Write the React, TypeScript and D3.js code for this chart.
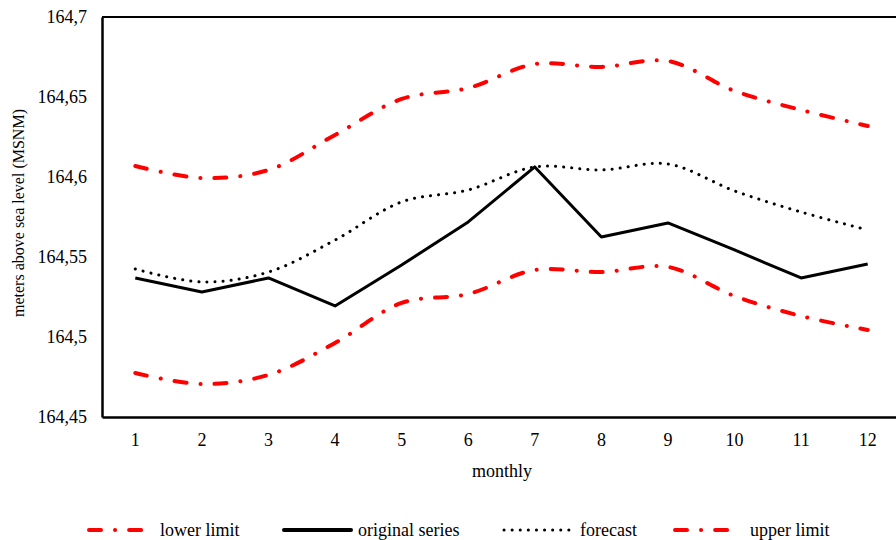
import React, { useEffect, useRef } from "react";
import * as d3 from "d3";

const months = ["1", "2", "3", "4", "5", "6", "7", "8", "9", "10", "11", "12"];
const upperLimit = [164.6069, 164.5994, 164.6044, 164.6263, 164.6488, 164.6556, 164.6706, 164.6688, 164.6725, 164.6538, 164.6419, 164.6319];
const originalSeries = [164.5369, 164.5281, 164.5369, 164.5194, 164.545, 164.5719, 164.6063, 164.5625, 164.5713, 164.5544, 164.5369, 164.5456];
const forecast = [164.5425, 164.5344, 164.5406, 164.5606, 164.5844, 164.5919, 164.6063, 164.6044, 164.6081, 164.5913, 164.5781, 164.5669];
const lowerLimit = [164.4775, 164.4706, 164.4763, 164.4963, 164.5213, 164.5269, 164.5419, 164.5406, 164.5438, 164.5256, 164.5131, 164.5044];
const yTicks = [164.45, 164.5, 164.55, 164.6, 164.65, 164.7];

const FONT = "'Liberation Serif', 'Times New Roman', Times, 'DejaVu Serif', serif";
const RED_DASH = "12 14 0.1 14";
const DOTS = "0.1 8";

function App() {
    const chart = useRef<SVGSVGElement>(null);

    useEffect(() => {
        const margin = { top: 17, right: -5, bottom: 123, left: 102 };
        const W = 896, H = 540;
        const width = W - margin.left - margin.right;
        const height = H - margin.top - margin.bottom;

        const root = d3.select(chart.current)
            .attr("width", W)
            .attr("height", H)
            .style("font-family", FONT);
        root.selectAll("*").remove();
        root.append("rect").attr("width", W).attr("height", H).attr("fill", "#fff");

        const svg = root.append("g")
            .attr("transform", `translate(${margin.left},${margin.top})`);

        const x = d3.scaleBand().domain(months).range([0, width]);
        const y = d3.scaleLinear().domain([164.45, 164.7]).range([height, 0]);
        const cx = (i: number) => (x(months[i]) as number) + x.bandwidth() / 2;

        // frame: top, left, bottom
        svg.append("line").attr("x1", 0).attr("x2", width).attr("y1", 0).attr("y2", 0)
            .attr("stroke", "#000").attr("stroke-width", 2);
        const yAxis = d3.axisLeft(y).tickValues(yTicks).tickSize(0).tickPadding(15)
            .tickFormat(d => String(d).replace(".", ","));
        const gy = svg.append("g").call(yAxis).attr("font-family", null);
        gy.select(".domain").attr("stroke-width", 2.5);
        gy.selectAll("text").style("font-family", FONT).attr("font-size", 18).attr("fill", "#000");

        const xAxis = d3.axisBottom(x).tickSize(0).tickPadding(16);
        const gx = svg.append("g").attr("transform", `translate(0,${height})`).call(xAxis).attr("font-family", null);
        gx.select(".domain").attr("stroke-width", 2.5);
        gx.selectAll("text").style("font-family", FONT).attr("font-size", 18).attr("fill", "#000");

        // axis titles
        root.append("text")
            .attr("transform", `translate(24,213) rotate(-90)`)
            .attr("text-anchor", "middle")
            .style("font-family", FONT).attr("font-size", 16)
            .text("meters above sea level (MSNM)");
        root.append("text")
            .attr("x", margin.left + 400).attr("y", 477)
            .attr("text-anchor", "middle")
            .style("font-family", FONT).attr("font-size", 18)
            .text("monthly");

        const smooth = d3.line<number>().x((d, i) => cx(i)).y(d => y(d)).curve(d3.curveCatmullRom.alpha(0.5));
        const straight = d3.line<number>().x((d, i) => cx(i)).y(d => y(d));

        const series = [
            { data: lowerLimit, gen: smooth, color: "#ff0000", w: 4, dash: RED_DASH },
            { data: upperLimit, gen: smooth, color: "#ff0000", w: 4, dash: RED_DASH },
            { data: forecast, gen: smooth, color: "#000", w: 3, dash: DOTS },
            { data: originalSeries, gen: straight, color: "#000", w: 3, dash: null },
        ];
        series.forEach(s => {
            svg.append("path")
                .attr("d", s.gen(s.data))
                .attr("fill", "none")
                .attr("stroke", s.color)
                .attr("stroke-width", s.w)
                .attr("stroke-linecap", s.dash ? "round" : "butt")
                .attr("stroke-linejoin", "round")
                .attr("stroke-dasharray", s.dash);
        });

        // legend
        const legend = [
            { label: "lower limit", x1: 89, x2: 143, tx: 160, color: "#ff0000", w: 4, dash: RED_DASH },
            { label: "original series", x1: 284, x2: 351, tx: 358, color: "#000", w: 4, dash: null },
            { label: "forecast", x1: 504, x2: 572, tx: 580, color: "#000", w: 3, dash: DOTS },
            { label: "upper limit", x1: 675, x2: 731, tx: 750, color: "#ff0000", w: 4, dash: RED_DASH },
        ];
        const lg = root.append("g");
        legend.forEach(l => {
            lg.append("line")
                .attr("x1", l.x1).attr("x2", l.x2).attr("y1", 530).attr("y2", 530)
                .attr("stroke", l.color).attr("stroke-width", l.w)
                .attr("stroke-linecap", "round")
                .attr("stroke-dasharray", l.dash);
            lg.append("text")
                .attr("x", l.tx).attr("y", 536)
                .style("font-family", FONT).attr("font-size", 18)
                .text(l.label);
        });

        return () => {
            root.selectAll("*").remove();
        };
    }, []);

    return (
        <svg ref={chart} style={{ position: "absolute", left: 0, top: 0 }}></svg>
    );
}

export default App;
